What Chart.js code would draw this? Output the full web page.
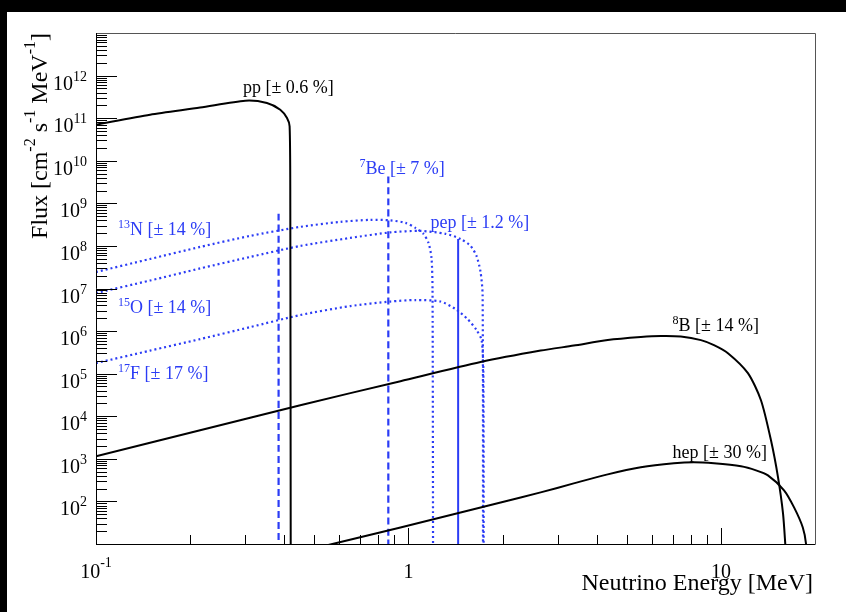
<!DOCTYPE html>
<html>
<head>
<meta charset="utf-8">
<script src="https://cdn.jsdelivr.net/npm/chart.js@4.4.1/dist/chart.umd.min.js"></script>
<style>
html, body { margin: 0; padding: 0; background: #000; }
#wrap { position: absolute; left: 7px; top: 12px; width: 839px; height: 600px; background: #fff; }
</style>
</head>
<body>
<div id="wrap"><canvas id="fluxChart" width="839" height="600"></canvas></div>
<script>
// spectra (energy in MeV, flux in cm^-2 s^-1 MeV^-1)
const ppE = [0.1, 0.149, 0.2154, 0.3003, 0.3524, 0.3888, 0.4086, 0.4165, 0.4186, 0.4200];
const ppF = [7.03e10, 1.21e11, 1.77e11, 2.58e11, 2.28e11, 1.58e11, 1.01e11, 6.41e10, 1.2e9, 1];

const n13E = [0.1, 0.149, 0.2154, 0.3115, 0.4505, 0.6054, 0.7553, 0.8755, 0.978, 1.053, 1.117, 1.159, 1.185, 1.194, 1.199];
const n13F = [2.44e7, 4.94e7, 9.47e7, 1.72e8, 2.80e8, 3.67e8, 4.09e8, 3.98e8, 3.48e8, 2.65e8, 1.92e8, 1.18e8, 5.22e7, 9.22e6, 1];

const o15E = [0.1, 0.149, 0.2154, 0.3115, 0.4505, 0.6517, 0.8755, 1.093, 1.314, 1.468, 1.580, 1.651, 1.701, 1.727, 1.732];
const o15F = [7.84e6, 1.54e7, 2.96e7, 5.51e7, 1.0e8, 1.54e8, 2.08e8, 2.25e8, 1.92e8, 1.46e8, 1.0e8, 5.82e7, 2.44e7, 7.03e6, 1];

const f17E = [0.1, 0.149, 0.2154, 0.3115, 0.4505, 0.6517, 0.8755, 1.053, 1.266, 1.414, 1.546, 1.651, 1.714, 1.736, 1.740];
const f17F = [1.77e5, 3.48e5, 6.48e5, 1.24e6, 2.38e6, 3.87e6, 4.94e6, 5.36e6, 4.94e6, 3.30e6, 1.91e6, 1.06e6, 6.14e5, 1.21e5, 1];

const b8E = [0.1, 0.2154, 0.4505, 0.9427, 1.701, 2.649, 3.379, 4.342, 5.541, 6.425, 7.44, 8.63, 9.50, 10.53, 12.20, 13.43, 14.46, 15.23, 15.80, 16.1];
const b8F = [1.15e3, 4.69e3, 1.82e4, 6.66e4, 1.87e5, 3.48e5, 4.56e5, 6.14e5, 7.22e5, 7.63e5, 7.43e5, 6.14e5, 4.69e5, 3.03e5, 1.03e5, 2.38e4, 2.72e3, 367, 52.2, 8];

const hepE = [0.4505, 0.5623, 0.9427, 1.468, 1.972, 2.649, 3.379, 4.342, 5.541, 7.07, 8.195, 9.50, 11.59, 12.95, 14.14, 15.92, 17.14, 18.28, 18.73, 18.8];
const hepF = [6.66, 9.73, 24.4, 55.1, 94.7, 163, 265, 432, 631, 783, 828, 783, 667, 536, 409, 182, 72.3, 24.4, 9.73, 3];

// line sources: energy and flux at top of the line
const be7E = [0.384, 0.862];
const be7F = [5.66e8, 4.27e9];
const pepE = [1.442];
const pepF = [1.46e8];

// axes
const xMin = 0.1, xMax = 20;
const yMin = 10, yMax = 1e13;
const yLabelExp = [2, 3, 4, 5, 6, 7, 8, 9, 10, 11, 12];
const xLabelVals = [0.1, 1, 10];
const xLabelText = [['10', '-1'], ['1', ''], ['10', '']];

// text labels (anchor energy, anchor flux at baseline)
const noteSup  = ['', '7', '13', '', '15', '17', '8', ''];
const noteText = ['pp [± 0.6 %]', 'Be [± 7 %]', 'N [± 14 %]', 'pep [± 1.2 %]', 'O [± 14 %]', 'F [± 17 %]', 'B [± 14 %]', 'hep [± 30 %]'];
const noteE    = [0.2954, 0.6966, 0.1176, 1.176, 0.1176, 0.1176, 7.0, 7.0];
const noteF    = [3.98e11, 4.9e9, 1.82e8, 2.65e8, 2.72e6, 7.4e4, 1.03e6, 1.03e3];
const noteBlue = [false, true, true, true, true, true, false, false];

const BLUE = '#2b3cf5';
const SERIF = '"Liberation Serif", "DejaVu Serif", serif';

const pts = (E, F) => E.map((e, i) => ({ x: e, y: F[i] }));
const lineSrc = (e, f) => [{ x: e, y: f }, { x: e, y: 1 }];

const curve = (data, color, dash) => ({
    data, borderColor: color, borderWidth: dash ? 2.2 : 2, borderDash: dash || [],
    showLine: true, pointRadius: 0, tension: 0.25, fill: false
});

// draws text with a raised exponent; parts = [[text, isSup], ...]
function richText(ctx, parts, x, y, align, size, supSize, raise, color) {
    const main = size + 'px ' + SERIF, sup = supSize + 'px ' + SERIF;
    let w = 0;
    parts.forEach(([t, s]) => { ctx.font = s ? sup : main; w += ctx.measureText(t).width; });
    let cx = align === 'right' ? x - w : align === 'center' ? x - w / 2 : x;
    ctx.fillStyle = color;
    ctx.textAlign = 'left';
    ctx.textBaseline = 'alphabetic';
    parts.forEach(([t, s]) => {
        ctx.font = s ? sup : main;
        ctx.fillText(t, cx, s ? y - raise : y);
        cx += ctx.measureText(t).width;
    });
}

const rootFrame = {
    id: 'rootFrame',
    afterDatasetsDraw(chart) {
        const { ctx, chartArea: a, scales: { x, y } } = chart;
        ctx.save();
        // frame
        ctx.lineWidth = 1;
        ctx.strokeStyle = '#555';
        ctx.beginPath();
        ctx.moveTo(a.left, a.top + 0.5); ctx.lineTo(a.right + 0.5, a.top + 0.5); ctx.lineTo(a.right + 0.5, a.bottom);
        ctx.stroke();
        ctx.strokeStyle = '#000';
        ctx.beginPath();
        ctx.moveTo(a.left + 0.5, a.top); ctx.lineTo(a.left + 0.5, a.bottom + 0.5); ctx.lineTo(a.right + 0.5, a.bottom + 0.5);
        ctx.stroke();

        // inward ticks
        ctx.beginPath();
        for (let e = 1; e <= 12; e++) {
            for (let m = 1; m < 10; m++) {
                const py = Math.round(y.getPixelForValue(m * Math.pow(10, e))) + 0.5;
                const len = m === 1 ? 21 : 11;
                ctx.moveTo(a.left, py); ctx.lineTo(a.left + len, py);
            }
        }
        for (let e = -1; e <= 1; e++) {
            for (let m = 1; m < 10; m++) {
                const v = m * Math.pow(10, e);
                if (v >= xMax) continue;
                const px = Math.round(x.getPixelForValue(v)) + 0.5;
                const len = m === 1 ? 16 : 9;
                ctx.moveTo(px, a.bottom); ctx.lineTo(px, a.bottom - len);
            }
        }
        ctx.stroke();

        // tick labels
        yLabelExp.forEach(e => {
            const py = y.getPixelForValue(Math.pow(10, e));
            richText(ctx, [['10', false], [String(e), true]], a.left - 9, py + 14, 'right', 20, 14, 9, '#000');
        });
        xLabelVals.forEach((v, i) => {
            const px = x.getPixelForValue(v);
            richText(ctx, [[xLabelText[i][0], false], [xLabelText[i][1], true]], px, a.bottom + 33.5, 'center', 20, 14, 11, '#000');
        });

        // axis titles
        richText(ctx, [['Neutrino Energy [MeV]', false]], a.right - 2, a.bottom + 46, 'right', 24, 16, 12, '#000');
        ctx.save();
        ctx.translate(40, a.top);
        ctx.rotate(-Math.PI / 2);
        richText(ctx, [['Flux [cm', false], ['-2', true], [' s', false], ['-1', true], [' MeV', false], ['-1', true], [']', false]],
            0, 0, 'right', 24, 16, 12, '#000');
        ctx.restore();

        // source labels
        noteText.forEach((t, i) => {
            const px = x.getPixelForValue(noteE[i]);
            const py = y.getPixelForValue(noteF[i]);
            const parts = noteSup[i] ? [[noteSup[i], true], [t, false]] : [[t, false]];
            richText(ctx, parts, px, py, 'left', 18, 12, 7, noteBlue[i] ? BLUE : '#000');
        });
        ctx.restore();
    }
};

new Chart(document.getElementById('fluxChart'), {
    type: 'scatter',
    data: {
        datasets: [
            curve(pts(ppE, ppF), '#000'),
            curve(pts(b8E, b8F), '#000'),
            curve(pts(hepE, hepF), '#000'),
            curve(pts(n13E, n13F), BLUE, [2, 3]),
            curve(pts(o15E, o15F), BLUE, [2, 3]),
            curve(pts(f17E, f17F), BLUE, [2, 3]),
            curve(lineSrc(be7E[0], be7F[0]), BLUE, [7, 4]),
            curve(lineSrc(be7E[1], be7F[1]), BLUE, [7, 4]),
            { ...curve(lineSrc(pepE[0], pepF[0]), BLUE), borderWidth: 2 }
        ]
    },
    options: {
        responsive: false,
        animation: false,
        layout: { padding: { left: 89, right: 31, top: 21, bottom: 68 } },
        plugins: { legend: { display: false }, tooltip: { enabled: false } },
        scales: {
            x: { type: 'logarithmic', min: xMin, max: xMax, display: false },
            y: { type: 'logarithmic', min: yMin, max: yMax, display: false }
        }
    },
    plugins: [rootFrame]
});
</script>
</body>
</html>
